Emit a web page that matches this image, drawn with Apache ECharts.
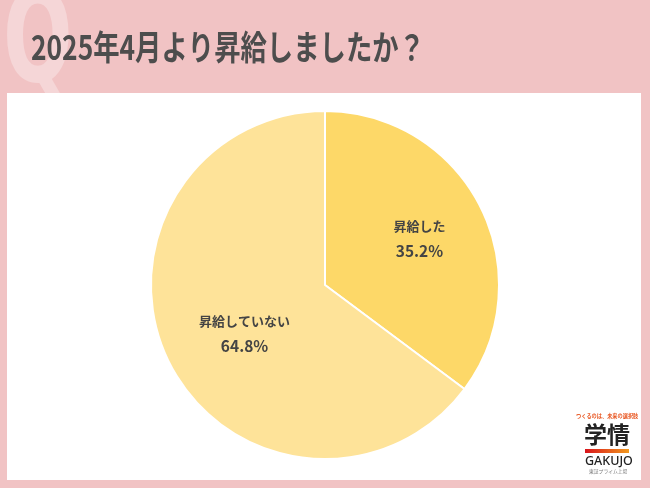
<!DOCTYPE html>
<html><head><meta charset="utf-8">
<script src="https://cdn.jsdelivr.net/npm/echarts@6/dist/echarts.min.js"></script>
<style>html,body{margin:0;padding:0;background:#f1c3c4;}#c{width:650px;height:488px;}</style>
</head><body><div id="c"></div>
<script>
const titleText = '2025年4月より昇給しましたか？';
const categories = ['昇給した', '昇給していない'];
const values = [35.2, 64.8];
const colors = ['#fdd868', '#fee399'];
const labelOffsets = [[14, -6], [0, 8]];

const chart = echarts.init(document.getElementById('c'));
const FONT = '"Noto Sans CJK JP", "Noto Sans", sans-serif';
chart.setOption({
  backgroundColor: '#f1c3c4',
  animation: false,
  graphic: [
    { type: 'text', x: 3, y: 112, scaleX: 0.64, z: 0, style: { text: 'Q', fontFamily: '"DejaVu Sans", sans-serif', fontWeight: 'bold', fontSize: 128, fill: '#f5d6d7', verticalAlign: 'bottom' } },
    { type: 'rect', shape: { x: 7, y: 93, width: 634, height: 387 }, z: 1, style: { fill: '#ffffff' } },
    { type: 'text', x: 31, y: 30, z: 2, scaleX: 0.775, style: { text: titleText, fontFamily: FONT, fontWeight: 'bold', fontSize: 34, fill: '#4d4d4d' } },
    { type: 'text', x: 576, y: 413, z: 5, style: { text: 'つくるのは、未来の選択肢', fontFamily: FONT, fontWeight: 'bold', fontSize: 5.2, fill: '#e8541e' } },
    { type: 'text', x: 584, y: 423, z: 5, style: { text: '学情', fontFamily: FONT, fontWeight: 'bold', fontSize: 23, fill: '#222222' } },
    { type: 'rect', shape: { x: 585, y: 449, width: 44, height: 4 }, z: 5, style: { fill: new echarts.graphic.LinearGradient(0, 0, 1, 0, [{ offset: 0, color: '#d8141c' }, { offset: 1, color: '#f39a1e' }]) } },
    { type: 'text', x: 585, y: 455, z: 5, style: { text: 'GAKUJO', fontFamily: '"Noto Sans", sans-serif', fontWeight: 500, fontSize: 12.5, fill: '#222222' } },
    { type: 'text', x: 589, y: 469, z: 5, style: { text: '東証プライム上場', fontFamily: FONT, fontSize: 4.8, fill: '#777777' } }
  ],
  series: [{
    type: 'pie',
    z: 3,
    center: [325, 285],
    radius: [0, 174],
    startAngle: 90,
    clockwise: true,
    silent: true,
    itemStyle: { borderColor: '#ffffff', borderWidth: 2 },
    label: {
      show: true,
      position: 'inside',
      formatter: p => '{n|' + p.name + '}\n{v|' + p.value.toFixed(1) + '%}',
      rich: {
        n: { fontFamily: FONT, fontWeight: 'bold', fontSize: 13, color: '#444444', lineHeight: 25 },
        v: { fontFamily: FONT, fontWeight: 'bold', fontSize: 15.5, color: '#444444', lineHeight: 25 }
      }
    },
    labelLine: { show: false },
    data: categories.map((c, i) => ({ name: c, value: values[i], itemStyle: { color: colors[i] }, label: { offset: labelOffsets[i] } }))
  }]
});
</script></body></html>
